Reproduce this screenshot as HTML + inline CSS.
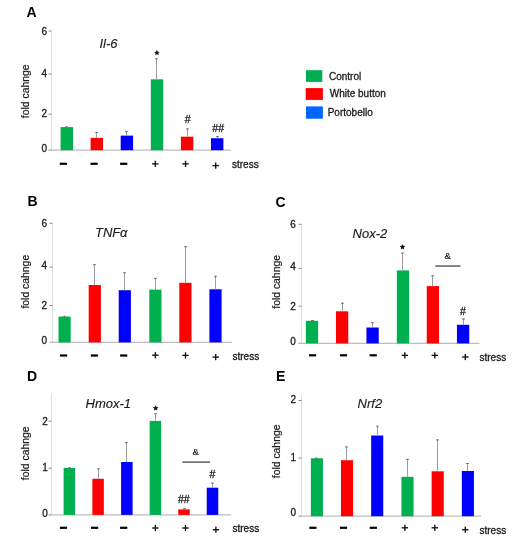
<!DOCTYPE html>
<html><head><meta charset="utf-8"><style>
html,body{margin:0;padding:0;background:#fff;}
body{width:524px;height:550px;overflow:hidden;}
svg{display:block;will-change:transform;font-family:"Liberation Sans", sans-serif;}
text{stroke:#1a1a1a;stroke-width:0.3px;paint-order:stroke;}
.t{stroke-width:0.15px;}
.L{stroke:none;}
.a{stroke-width:0.15px;}
.y{stroke-width:0.2px;}
</style></head><body>
<svg width="524" height="550" viewBox="0 0 524 550">
<rect width="524" height="550" fill="#fff"/>
<text x="26.6" y="16.6" class="L" font-size="14" font-weight="bold" fill="#000">A</text>
<line x1="51.5" y1="31" x2="51.5" y2="150.2" stroke="#dedede" stroke-width="1"/>
<line x1="48.5" y1="31" x2="51.5" y2="31" stroke="#888" stroke-width="1"/>
<text x="47" y="35.1" font-size="10" text-anchor="end" fill="#1a1a1a">6</text>
<line x1="48.5" y1="74" x2="51.5" y2="74" stroke="#888" stroke-width="1"/>
<text x="47" y="77.3" font-size="10" text-anchor="end" fill="#1a1a1a">4</text>
<line x1="48.5" y1="114.2" x2="51.5" y2="114.2" stroke="#888" stroke-width="1"/>
<text x="47" y="117.25" font-size="10" text-anchor="end" fill="#1a1a1a">2</text>
<line x1="48.5" y1="150.2" x2="51.5" y2="150.2" stroke="#888" stroke-width="1"/>
<text x="47" y="152.1" font-size="10" text-anchor="end" fill="#1a1a1a">0</text>
<line x1="49" y1="150.2" x2="231" y2="150.2" stroke="#bdbdbd" stroke-width="1.2"/>
<rect x="60.6" y="127.1" width="12.4" height="23.1" fill="#00b050"/>
<line x1="65.2" y1="126.8" x2="67.8" y2="126.8" stroke="#666" stroke-width="1"/>
<rect x="90.6" y="137.9" width="12.4" height="12.3" fill="#ff0000"/>
<line x1="96.5" y1="132" x2="96.5" y2="137.9" stroke="#9c9c9c" stroke-width="1"/>
<line x1="95.2" y1="132.5" x2="97.8" y2="132.5" stroke="#666" stroke-width="1"/>
<rect x="120.7" y="135.6" width="12.4" height="14.6" fill="#0000ff"/>
<line x1="126.5" y1="131.2" x2="126.5" y2="135.6" stroke="#9c9c9c" stroke-width="1"/>
<line x1="125.2" y1="131.7" x2="127.8" y2="131.7" stroke="#666" stroke-width="1"/>
<rect x="150.8" y="79.3" width="12.4" height="70.9" fill="#00b050"/>
<line x1="156.5" y1="58.3" x2="156.5" y2="79.3" stroke="#9c9c9c" stroke-width="1"/>
<line x1="155.2" y1="58.8" x2="157.8" y2="58.8" stroke="#666" stroke-width="1"/>
<rect x="180.9" y="136.7" width="12.4" height="13.5" fill="#ff0000"/>
<line x1="187.5" y1="128.4" x2="187.5" y2="136.7" stroke="#9c9c9c" stroke-width="1"/>
<line x1="186.2" y1="128.9" x2="188.8" y2="128.9" stroke="#666" stroke-width="1"/>
<rect x="211" y="138.2" width="12.4" height="12" fill="#0000ff"/>
<line x1="217.5" y1="136" x2="217.5" y2="138.2" stroke="#9c9c9c" stroke-width="1"/>
<line x1="216.2" y1="136.5" x2="218.8" y2="136.5" stroke="#666" stroke-width="1"/>
<text x="99.5" y="47.6" class="t" font-size="13" font-style="italic" fill="#1a1a1a"><tspan>Il-6</tspan></text>
<text x="0" y="0" class="y" font-size="10.4" text-anchor="middle" fill="#1a1a1a" transform="translate(29.4,91.3) rotate(-90)">fold cahnge</text>
<rect x="59.8" y="162.7" width="7.2" height="2.2" fill="#000"/>
<rect x="90.5" y="162.7" width="7.2" height="2.2" fill="#000"/>
<rect x="120.1" y="162.7" width="7.2" height="2.2" fill="#000"/>
<rect x="152.1" y="163.17" width="6.4" height="1.35" fill="#111"/>
<rect x="154.62" y="160.75" width="1.35" height="6.2" fill="#111"/>
<rect x="182.35" y="163.17" width="6.4" height="1.35" fill="#111"/>
<rect x="184.88" y="160.75" width="1.35" height="6.2" fill="#111"/>
<rect x="212.5" y="164.92" width="6.4" height="1.35" fill="#111"/>
<rect x="215.02" y="162.5" width="1.35" height="6.2" fill="#111"/>
<text x="232" y="168" font-size="10" fill="#1a1a1a">stress</text>
<polygon points="156.95,49.85 157.8,51.63 159.76,51.89 158.33,53.25 158.68,55.19 156.95,54.25 155.22,55.19 155.57,53.25 154.14,51.89 156.1,51.63" fill="#1a1a1a"/>
<text x="187.55" y="122.8" font-size="10.5" text-anchor="middle" fill="#1a1a1a">#</text>
<text x="218.15" y="131.6" font-size="10.5" text-anchor="middle" fill="#1a1a1a">##</text>
<text x="27.4" y="206.4" class="L" font-size="14" font-weight="bold" fill="#000">B</text>
<line x1="52.5" y1="223" x2="52.5" y2="342.4" stroke="#dedede" stroke-width="1"/>
<line x1="49.5" y1="223.2" x2="52.5" y2="223.2" stroke="#888" stroke-width="1"/>
<text x="47" y="226.55" font-size="10" text-anchor="end" fill="#1a1a1a">6</text>
<line x1="49.5" y1="267.1" x2="52.5" y2="267.1" stroke="#888" stroke-width="1"/>
<text x="47" y="268.8" font-size="10" text-anchor="end" fill="#1a1a1a">4</text>
<line x1="49.5" y1="305.6" x2="52.5" y2="305.6" stroke="#888" stroke-width="1"/>
<text x="47" y="308.8" font-size="10" text-anchor="end" fill="#1a1a1a">2</text>
<line x1="49.5" y1="342.4" x2="52.5" y2="342.4" stroke="#888" stroke-width="1"/>
<text x="47" y="343.5" font-size="10" text-anchor="end" fill="#1a1a1a">0</text>
<line x1="50" y1="342.4" x2="232" y2="342.4" stroke="#bdbdbd" stroke-width="1.2"/>
<rect x="58.5" y="316.6" width="12.2" height="25.8" fill="#00b050"/>
<line x1="64.5" y1="315.8" x2="64.5" y2="316.6" stroke="#9c9c9c" stroke-width="1"/>
<line x1="63.2" y1="316.3" x2="65.8" y2="316.3" stroke="#666" stroke-width="1"/>
<rect x="88.7" y="285" width="12.2" height="57.4" fill="#ff0000"/>
<line x1="94.5" y1="264.2" x2="94.5" y2="285" stroke="#9c9c9c" stroke-width="1"/>
<line x1="93.2" y1="264.7" x2="95.8" y2="264.7" stroke="#666" stroke-width="1"/>
<rect x="118.7" y="290.2" width="12.2" height="52.2" fill="#0000ff"/>
<line x1="124.5" y1="272.3" x2="124.5" y2="290.2" stroke="#9c9c9c" stroke-width="1"/>
<line x1="123.2" y1="272.8" x2="125.8" y2="272.8" stroke="#666" stroke-width="1"/>
<rect x="149.3" y="289.6" width="12.2" height="52.8" fill="#00b050"/>
<line x1="155.5" y1="277.9" x2="155.5" y2="289.6" stroke="#9c9c9c" stroke-width="1"/>
<line x1="154.2" y1="278.4" x2="156.8" y2="278.4" stroke="#666" stroke-width="1"/>
<rect x="179.3" y="282.8" width="12.2" height="59.6" fill="#ff0000"/>
<line x1="185.5" y1="246.2" x2="185.5" y2="282.8" stroke="#9c9c9c" stroke-width="1"/>
<line x1="184.2" y1="246.7" x2="186.8" y2="246.7" stroke="#666" stroke-width="1"/>
<rect x="209.4" y="289.3" width="12.2" height="53.1" fill="#0000ff"/>
<line x1="215.5" y1="275.8" x2="215.5" y2="289.3" stroke="#9c9c9c" stroke-width="1"/>
<line x1="214.2" y1="276.3" x2="216.8" y2="276.3" stroke="#666" stroke-width="1"/>
<text x="95" y="237.2" class="t" font-size="13" font-style="italic" fill="#1a1a1a"><tspan>TNF</tspan><tspan dx="-0.3">α</tspan></text>
<text x="0" y="0" class="y" font-size="10.4" text-anchor="middle" fill="#1a1a1a" transform="translate(28.6,281.7) rotate(-90)">fold cahnge</text>
<rect x="60" y="354.4" width="7.2" height="2.2" fill="#000"/>
<rect x="90.85" y="354.4" width="7.2" height="2.2" fill="#000"/>
<rect x="120.1" y="354.4" width="7.2" height="2.2" fill="#000"/>
<rect x="152.15" y="354.52" width="6.4" height="1.35" fill="#111"/>
<rect x="154.67" y="352.1" width="1.35" height="6.2" fill="#111"/>
<rect x="182.3" y="354.72" width="6.4" height="1.35" fill="#111"/>
<rect x="184.82" y="352.3" width="1.35" height="6.2" fill="#111"/>
<rect x="212.5" y="356.43" width="6.4" height="1.35" fill="#111"/>
<rect x="215.02" y="354" width="1.35" height="6.2" fill="#111"/>
<text x="232.5" y="360.2" font-size="10" fill="#1a1a1a">stress</text>
<text x="275.6" y="206.8" class="L" font-size="14" font-weight="bold" fill="#000">C</text>
<line x1="301.5" y1="224.2" x2="301.5" y2="343.4" stroke="#dedede" stroke-width="1"/>
<line x1="298.5" y1="224.3" x2="301.5" y2="224.3" stroke="#888" stroke-width="1"/>
<text x="295.8" y="227.8" font-size="10" text-anchor="end" fill="#1a1a1a">6</text>
<line x1="298.5" y1="268.4" x2="301.5" y2="268.4" stroke="#888" stroke-width="1"/>
<text x="295.8" y="270.2" font-size="10" text-anchor="end" fill="#1a1a1a">4</text>
<line x1="298.5" y1="306.2" x2="301.5" y2="306.2" stroke="#888" stroke-width="1"/>
<text x="295.8" y="309.9" font-size="10" text-anchor="end" fill="#1a1a1a">2</text>
<line x1="298.5" y1="343.4" x2="301.5" y2="343.4" stroke="#888" stroke-width="1"/>
<text x="295.8" y="344.6" font-size="10" text-anchor="end" fill="#1a1a1a">0</text>
<line x1="299" y1="343.4" x2="479.5" y2="343.4" stroke="#bdbdbd" stroke-width="1.2"/>
<rect x="305.85" y="320.8" width="12.3" height="22.6" fill="#00b050"/>
<line x1="312.5" y1="320" x2="312.5" y2="320.8" stroke="#9c9c9c" stroke-width="1"/>
<line x1="311.2" y1="320.5" x2="313.8" y2="320.5" stroke="#666" stroke-width="1"/>
<rect x="335.95" y="311.3" width="12.3" height="32.1" fill="#ff0000"/>
<line x1="342.5" y1="302.7" x2="342.5" y2="311.3" stroke="#9c9c9c" stroke-width="1"/>
<line x1="341.2" y1="303.2" x2="343.8" y2="303.2" stroke="#666" stroke-width="1"/>
<rect x="366.45" y="327.5" width="12.3" height="15.9" fill="#0000ff"/>
<line x1="372.5" y1="322.2" x2="372.5" y2="327.5" stroke="#9c9c9c" stroke-width="1"/>
<line x1="371.2" y1="322.7" x2="373.8" y2="322.7" stroke="#666" stroke-width="1"/>
<rect x="396.85" y="270.4" width="12.3" height="73" fill="#00b050"/>
<line x1="402.5" y1="252.5" x2="402.5" y2="270.4" stroke="#9c9c9c" stroke-width="1"/>
<line x1="401.2" y1="253" x2="403.8" y2="253" stroke="#666" stroke-width="1"/>
<rect x="426.75" y="286.1" width="12.3" height="57.3" fill="#ff0000"/>
<line x1="432.5" y1="275.3" x2="432.5" y2="286.1" stroke="#9c9c9c" stroke-width="1"/>
<line x1="431.2" y1="275.8" x2="433.8" y2="275.8" stroke="#666" stroke-width="1"/>
<rect x="456.95" y="324.8" width="12.3" height="18.6" fill="#0000ff"/>
<line x1="463.5" y1="318.5" x2="463.5" y2="324.8" stroke="#9c9c9c" stroke-width="1"/>
<line x1="462.2" y1="319" x2="464.8" y2="319" stroke="#666" stroke-width="1"/>
<text x="352.6" y="238.4" class="t" font-size="13" font-style="italic" fill="#1a1a1a"><tspan>Nox-2</tspan></text>
<text x="0" y="0" class="y" font-size="10.4" text-anchor="middle" fill="#1a1a1a" transform="translate(280.4,281.9) rotate(-90)">fold cahnge</text>
<rect x="309" y="354.2" width="7.2" height="2.2" fill="#000"/>
<rect x="339.9" y="354.2" width="7.2" height="2.2" fill="#000"/>
<rect x="369.6" y="354.2" width="7.2" height="2.2" fill="#000"/>
<rect x="401.65" y="354.68" width="6.4" height="1.35" fill="#111"/>
<rect x="404.18" y="352.25" width="1.35" height="6.2" fill="#111"/>
<rect x="431.6" y="354.68" width="6.4" height="1.35" fill="#111"/>
<rect x="434.12" y="352.25" width="1.35" height="6.2" fill="#111"/>
<rect x="462.1" y="356.32" width="6.4" height="1.35" fill="#111"/>
<rect x="464.62" y="353.9" width="1.35" height="6.2" fill="#111"/>
<text x="479.5" y="361" font-size="10" fill="#1a1a1a">stress</text>
<polygon points="402.5,244.05 403.35,245.83 405.31,246.09 403.88,247.45 404.23,249.39 402.5,248.45 400.77,249.39 401.12,247.45 399.69,246.09 401.65,245.83" fill="#1a1a1a"/>
<text x="463" y="315" font-size="10.5" text-anchor="middle" fill="#1a1a1a">#</text>
<text x="447.75" y="259.4" class="a" font-size="9.5" text-anchor="middle" fill="#1a1a1a">&amp;</text>
<line x1="435.3" y1="266.05" x2="460.4" y2="266.05" stroke="#666" stroke-width="1.6"/>
<text x="27.1" y="380.8" class="L" font-size="14" font-weight="bold" fill="#000">D</text>
<line x1="51.5" y1="394" x2="51.5" y2="514.9" stroke="#dedede" stroke-width="1"/>
<line x1="48.5" y1="421.2" x2="51.5" y2="421.2" stroke="#888" stroke-width="1"/>
<text x="47.7" y="425" font-size="10" text-anchor="end" fill="#1a1a1a">2</text>
<line x1="48.5" y1="468.2" x2="51.5" y2="468.2" stroke="#888" stroke-width="1"/>
<text x="47.7" y="471.1" font-size="10" text-anchor="end" fill="#1a1a1a">1</text>
<line x1="48.5" y1="514.9" x2="51.5" y2="514.9" stroke="#888" stroke-width="1"/>
<text x="47.7" y="516.5" font-size="10" text-anchor="end" fill="#1a1a1a">0</text>
<line x1="49" y1="514.9" x2="231.2" y2="514.9" stroke="#bdbdbd" stroke-width="1.2"/>
<rect x="63.6" y="467.9" width="11.5" height="47" fill="#00b050"/>
<line x1="68.2" y1="467.8" x2="70.8" y2="467.8" stroke="#666" stroke-width="1"/>
<rect x="92.35" y="478.8" width="11.5" height="36.1" fill="#ff0000"/>
<line x1="98.5" y1="468.3" x2="98.5" y2="478.8" stroke="#9c9c9c" stroke-width="1"/>
<line x1="97.2" y1="468.8" x2="99.8" y2="468.8" stroke="#666" stroke-width="1"/>
<rect x="121.1" y="462" width="11.5" height="52.9" fill="#0000ff"/>
<line x1="126.5" y1="442.1" x2="126.5" y2="462" stroke="#9c9c9c" stroke-width="1"/>
<line x1="125.2" y1="442.6" x2="127.8" y2="442.6" stroke="#666" stroke-width="1"/>
<rect x="149.65" y="420.9" width="11.5" height="94" fill="#00b050"/>
<line x1="155.5" y1="413.2" x2="155.5" y2="420.9" stroke="#9c9c9c" stroke-width="1"/>
<line x1="154.2" y1="413.7" x2="156.8" y2="413.7" stroke="#666" stroke-width="1"/>
<rect x="178.25" y="509.4" width="11.5" height="5.5" fill="#ff0000"/>
<line x1="184.5" y1="508.1" x2="184.5" y2="509.4" stroke="#9c9c9c" stroke-width="1"/>
<line x1="183.2" y1="508.6" x2="185.8" y2="508.6" stroke="#666" stroke-width="1"/>
<rect x="206.75" y="487.7" width="11.5" height="27.2" fill="#0000ff"/>
<line x1="212.5" y1="482.7" x2="212.5" y2="487.7" stroke="#9c9c9c" stroke-width="1"/>
<line x1="211.2" y1="483.2" x2="213.8" y2="483.2" stroke="#666" stroke-width="1"/>
<text x="85.6" y="408" class="t" font-size="13" font-style="italic" fill="#1a1a1a"><tspan>Hmox-1</tspan></text>
<text x="0" y="0" class="y" font-size="10.4" text-anchor="middle" fill="#1a1a1a" transform="translate(28.9,453.3) rotate(-90)">fold cahnge</text>
<rect x="59.85" y="526.7" width="7.2" height="2.2" fill="#000"/>
<rect x="91" y="526.7" width="7.2" height="2.2" fill="#000"/>
<rect x="120.1" y="526.7" width="7.2" height="2.2" fill="#000"/>
<rect x="152.2" y="527.33" width="6.4" height="1.35" fill="#111"/>
<rect x="154.72" y="524.9" width="1.35" height="6.2" fill="#111"/>
<rect x="182.3" y="527.33" width="6.4" height="1.35" fill="#111"/>
<rect x="184.82" y="524.9" width="1.35" height="6.2" fill="#111"/>
<rect x="212.7" y="529.03" width="6.4" height="1.35" fill="#111"/>
<rect x="215.22" y="526.6" width="1.35" height="6.2" fill="#111"/>
<text x="232.5" y="532.4" font-size="10" fill="#1a1a1a">stress</text>
<polygon points="155.65,405.25 156.5,407.03 158.46,407.29 157.03,408.65 157.38,410.59 155.65,409.65 153.92,410.59 154.27,408.65 152.84,407.29 154.8,407.03" fill="#1a1a1a"/>
<text x="183.8" y="502.9" font-size="10.5" text-anchor="middle" fill="#1a1a1a">##</text>
<text x="212.4" y="477.5" font-size="10.5" text-anchor="middle" fill="#1a1a1a">#</text>
<text x="195.7" y="455.1" class="a" font-size="9.5" text-anchor="middle" fill="#1a1a1a">&amp;</text>
<line x1="182.3" y1="462.1" x2="210.1" y2="462.1" stroke="#666" stroke-width="1.6"/>
<text x="276" y="380.6" class="L" font-size="14" font-weight="bold" fill="#000">E</text>
<line x1="301.5" y1="395.5" x2="301.5" y2="516.2" stroke="#dedede" stroke-width="1"/>
<line x1="298.5" y1="400.5" x2="301.5" y2="400.5" stroke="#888" stroke-width="1"/>
<text x="296" y="402.9" font-size="10" text-anchor="end" fill="#1a1a1a">2</text>
<line x1="298.5" y1="458.1" x2="301.5" y2="458.1" stroke="#888" stroke-width="1"/>
<text x="296" y="461.2" font-size="10" text-anchor="end" fill="#1a1a1a">1</text>
<line x1="298.5" y1="516.2" x2="301.5" y2="516.2" stroke="#888" stroke-width="1"/>
<text x="296" y="516" font-size="10" text-anchor="end" fill="#1a1a1a">0</text>
<line x1="299" y1="516.2" x2="481.1" y2="516.2" stroke="#bdbdbd" stroke-width="1.2"/>
<rect x="310.85" y="458.3" width="12.1" height="57.9" fill="#00b050"/>
<line x1="315.2" y1="458.1" x2="317.8" y2="458.1" stroke="#666" stroke-width="1"/>
<rect x="340.95" y="460.2" width="12.1" height="56" fill="#ff0000"/>
<line x1="346.5" y1="446.4" x2="346.5" y2="460.2" stroke="#9c9c9c" stroke-width="1"/>
<line x1="345.2" y1="446.9" x2="347.8" y2="446.9" stroke="#666" stroke-width="1"/>
<rect x="371.15" y="435.5" width="12.1" height="80.7" fill="#0000ff"/>
<line x1="377.5" y1="425.7" x2="377.5" y2="435.5" stroke="#9c9c9c" stroke-width="1"/>
<line x1="376.2" y1="426.2" x2="378.8" y2="426.2" stroke="#666" stroke-width="1"/>
<rect x="401.45" y="476.8" width="12.1" height="39.4" fill="#00b050"/>
<line x1="407.5" y1="458.9" x2="407.5" y2="476.8" stroke="#9c9c9c" stroke-width="1"/>
<line x1="406.2" y1="459.4" x2="408.8" y2="459.4" stroke="#666" stroke-width="1"/>
<rect x="431.65" y="471.3" width="12.1" height="44.9" fill="#ff0000"/>
<line x1="437.5" y1="439.4" x2="437.5" y2="471.3" stroke="#9c9c9c" stroke-width="1"/>
<line x1="436.2" y1="439.9" x2="438.8" y2="439.9" stroke="#666" stroke-width="1"/>
<rect x="461.85" y="471" width="12.1" height="45.2" fill="#0000ff"/>
<line x1="467.5" y1="463" x2="467.5" y2="471" stroke="#9c9c9c" stroke-width="1"/>
<line x1="466.2" y1="463.5" x2="468.8" y2="463.5" stroke="#666" stroke-width="1"/>
<text x="357.6" y="408.4" class="t" font-size="13" font-style="italic" fill="#1a1a1a"><tspan>Nrf2</tspan></text>
<text x="0" y="0" class="y" font-size="10.4" text-anchor="middle" fill="#1a1a1a" transform="translate(280.1,451.4) rotate(-90)">fold cahnge</text>
<rect x="309.3" y="526.7" width="7.2" height="2.2" fill="#000"/>
<rect x="339.9" y="526.7" width="7.2" height="2.2" fill="#000"/>
<rect x="369.75" y="526.7" width="7.2" height="2.2" fill="#000"/>
<rect x="401.7" y="527.12" width="6.4" height="1.35" fill="#111"/>
<rect x="404.22" y="524.7" width="1.35" height="6.2" fill="#111"/>
<rect x="431.6" y="527.12" width="6.4" height="1.35" fill="#111"/>
<rect x="434.12" y="524.7" width="1.35" height="6.2" fill="#111"/>
<rect x="462.1" y="529.03" width="6.4" height="1.35" fill="#111"/>
<rect x="464.62" y="526.6" width="1.35" height="6.2" fill="#111"/>
<text x="479.5" y="533.6" font-size="10" fill="#1a1a1a">stress</text>

<rect x="306" y="70.2" width="16.3" height="11.7" fill="#00b050"/>
<rect x="305.7" y="88.1" width="17.2" height="11.8" fill="#ff0000"/>
<rect x="306" y="106.4" width="16.9" height="12.3" fill="#0066ff"/>
<text x="329" y="79.7" font-size="10" fill="#1a1a1a">Control</text>
<text x="329.7" y="97.1" font-size="10" fill="#1a1a1a">White button</text>
<text x="327.7" y="116.2" font-size="10" fill="#1a1a1a">Portobello</text>

</svg>
</body></html>
